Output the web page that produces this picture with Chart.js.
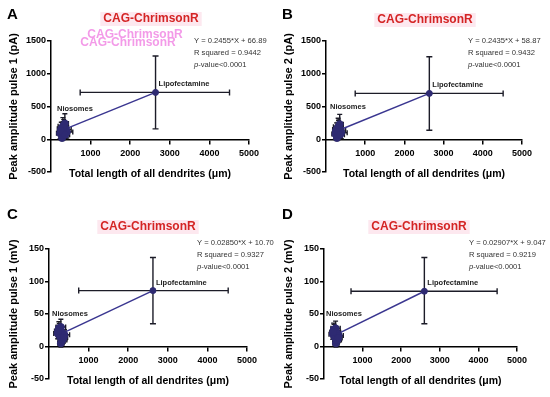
<!DOCTYPE html>
<html lang="en">
<head>
<meta charset="UTF-8">
<title>CAG-ChrimsonR</title>
<style>
  body { margin: 0; background: #fff; }
  #wrap { position: relative; width: 550px; height: 397px; overflow: hidden; background: #fff; }
  canvas { position: absolute; }
</style>
</head>
<body>
<script src="https://cdn.jsdelivr.net/npm/chart.js"></script>
<div id="wrap">
  <canvas id="cA" width="275" height="200" style="left:0;top:0"></canvas>
  <canvas id="cB" width="275" height="200" style="left:275px;top:0"></canvas>
  <canvas id="cC" width="275" height="197" style="left:0;top:200px"></canvas>
  <canvas id="cD" width="275" height="197" style="left:275px;top:200px"></canvas>
</div>
<script>
// ticks
const xTicks = [1000, 2000, 3000, 4000, 5000];
const yTicksPA = [-500, 0, 500, 1000, 1500];
const yTicksMV = [-50, 0, 50, 100, 150];

const panelLetters = ['A', 'B', 'C', 'D'];
const yTitles = ['Peak amplitude pulse 1 (pA)', 'Peak amplitude pulse 2 (pA)',
                 'Peak amplitude pulse 1 (mV)', 'Peak amplitude pulse 2 (mV)'];
const equations = ['Y = 0.2455*X + 66.89', 'Y = 0.2435*X + 58.87',
                   'Y = 0.02850*X + 10.70', 'Y = 0.02907*X + 9.047'];
const rSquared = ['R squared = 0.9442', 'R squared = 0.9432',
                  'R squared = 0.9327', 'R squared = 0.9219'];

// Lipofectamine group (mean, error bar ends)
const lipoX   = [2640, 2636, 2625, 2600];
const lipoY   = [715, 700, 86, 85];
const lipoXLo = [737, 745, 750, 700];
const lipoXHi = [4508, 4519, 4525, 4485];
const lipoYLo = [158, 138, 35, 35];
const lipoYHi = [1271, 1260, 137, 137];

// Niosomes group, per panel
const niosX = [
  [230, 260, 290, 300, 330, 350, 380, 400, 280, 320, 250, 360],
  [240, 270, 290, 310, 330, 350, 370, 390, 280, 320, 250, 360],
  [220, 260, 280, 300, 330, 360, 390, 300, 250, 340, 230, 370],
  [230, 260, 280, 300, 330, 350, 380, 310, 250, 340, 240, 370]
];
const niosY = [
  [90, 160, 60, 200, 130, 240, 150, 110, 20, 180, 130, 70],
  [80, 150, 60, 190, 120, 230, 140, 100, 20, 170, 120, 70],
  [20, 25, 15, 30, 22, 12, 18, 5, 28, 10, 24, 14],
  [19, 24, 14, 28, 21, 12, 17, 5, 26, 10, 22, 13]
];
const niosXErr = [
  [90, 100, 80, 120, 110, 90, 130, 150, 70, 100, 80, 110],
  [90, 100, 80, 120, 110, 90, 130, 150, 70, 100, 80, 110],
  [100, 80, 90, 120, 100, 90, 130, 80, 70, 110, 90, 100],
  [100, 80, 90, 120, 100, 90, 120, 80, 70, 110, 90, 100]
];
const niosYErr = [
  [80, 100, 60, 130, 90, 150, 110, 90, 40, 120, 70, 60],
  [80, 100, 60, 130, 90, 150, 110, 90, 40, 120, 70, 60],
  [8, 10, 6, 12, 9, 7, 8, 6, 10, 6, 8, 7],
  [8, 10, 6, 11, 9, 7, 8, 6, 10, 6, 8, 7]
];

// regression line ends
const fitX1 = [260, 280, 280, 300];
const fitY1 = [131, 127, 18.7, 17.8];

// layout per panel: plot area edges inside each canvas
const plotTop    = [41, 41, 49, 49];
const plotBottom = [172, 172, 179, 179];
const plotLeft   = [51, 51, 49, 49];
const plotRight  = [249, 247, 247, 242];
const titleCX    = [151, 150, 148, 144];
const titleY     = [19, 20, 27, 27];
const eqX        = [194, 193, 197, 194];
const eqY        = [41, 41, 43, 43];
const niosLabel  = [[57, 109], [55, 107], [52, 114], [51, 114]];

const FONT = "'Liberation Sans', Arial, sans-serif";
const NAVY = '#2e2a72';
const BAR = '#1c1c28';

const errorBars = {
  id: 'errorBars',
  beforeDatasetsDraw(chart) {
    const {ctx, scales: {x, y}} = chart;
    ctx.save();
    ctx.strokeStyle = BAR;
    ctx.lineWidth = 1.4;
    chart.data.datasets.forEach(ds => {
      if (!ds.err) return;
      ds.data.forEach((p, i) => {
        const e = ds.err[i];
        const px = x.getPixelForValue(p.x), py = y.getPixelForValue(p.y);
        const x0 = x.getPixelForValue(e.xlo), x1 = x.getPixelForValue(e.xhi);
        const y0 = y.getPixelForValue(e.ylo), y1 = y.getPixelForValue(e.yhi);
        const c = ds.cap;
        ctx.beginPath();
        ctx.moveTo(px, y0); ctx.lineTo(px, y1);
        ctx.moveTo(px - c, y0); ctx.lineTo(px + c, y0);
        ctx.moveTo(px - c, y1); ctx.lineTo(px + c, y1);
        ctx.moveTo(x0, py); ctx.lineTo(x1, py);
        ctx.moveTo(x0, py - c); ctx.lineTo(x0, py + c);
        ctx.moveTo(x1, py - c); ctx.lineTo(x1, py + c);
        ctx.stroke();
      });
    });
    ctx.restore();
  }
};

const labels = {
  id: 'labels',
  afterDraw(chart) {
    const k = chart.options.plugins.labels.panel;
    const {ctx, scales: {x, y}} = chart;
    ctx.save();
    ctx.textBaseline = 'middle';
    // panel letter
    ctx.fillStyle = '#000';
    ctx.font = 'bold 15px ' + FONT;
    ctx.textAlign = 'left';
    ctx.fillText(panelLetters[k], 7, 15);
    // artefact copies of the title in panel A
    if (k === 0) {
      ctx.font = 'bold 12px ' + FONT;
      ctx.textAlign = 'center';
      ctx.fillStyle = '#f39ae8';
      ctx.fillText('CAG-ChrimsonR', 135, 35);
      ctx.fillText('CAG-ChrimsonR', 128, 43);
    }
    // title with pale pink box
    ctx.font = 'bold 12px ' + FONT;
    ctx.textAlign = 'center';
    const w = ctx.measureText('CAG-ChrimsonR').width;
    ctx.fillStyle = '#fde8ef';
    ctx.fillRect(titleCX[k] - w / 2 - 3, titleY[k] - 7, w + 6, 14);
    ctx.fillStyle = '#d42424';
    ctx.fillText('CAG-ChrimsonR', titleCX[k], titleY[k]);
    // fit stats
    ctx.textAlign = 'left';
    ctx.fillStyle = '#333';
    ctx.font = '7.6px ' + FONT;
    ctx.fillText(equations[k], eqX[k], eqY[k]);
    ctx.fillText(rSquared[k], eqX[k], eqY[k] + 12);
    ctx.font = 'italic 7.6px ' + FONT;
    ctx.fillText('p', eqX[k], eqY[k] + 24);
    const pw = ctx.measureText('p').width;
    ctx.font = '7.6px ' + FONT;
    ctx.fillText('-value<0.0001', eqX[k] + pw, eqY[k] + 24);
    // group labels
    ctx.fillStyle = '#222';
    ctx.font = 'bold 7.5px ' + FONT;
    ctx.fillText('Lipofectamine', x.getPixelForValue(lipoX[k]) + 3, y.getPixelForValue(lipoY[k]) - 8);
    ctx.fillText('Niosomes', niosLabel[k][0], niosLabel[k][1]);
    ctx.restore();
  }
};

function makeChart(id, k) {
  const yTicks = k < 2 ? yTicksPA : yTicksMV;
  const canvas = document.getElementById(id);
  const H = canvas.height, W = canvas.width;

  const nios = niosX[k].map((v, i) => ({x: v, y: niosY[k][i]}));
  const niosErr = niosX[k].map((v, i) => ({
    xlo: v - niosXErr[k][i], xhi: v + niosXErr[k][i],
    ylo: niosY[k][i] - niosYErr[k][i], yhi: niosY[k][i] + niosYErr[k][i]
  }));

  new Chart(canvas.getContext('2d'), {
    type: 'scatter',
    data: {
      datasets: [
        {
          label: 'fit',
          type: 'line',
          data: [{x: fitX1[k], y: fitY1[k]}, {x: lipoX[k], y: lipoY[k]}],
          borderColor: '#3a3690',
          borderWidth: 1.5,
          pointRadius: 0,
          fill: false,
          order: 3
        },
        {
          label: 'Niosomes',
          data: nios,
          err: niosErr,
          cap: 2.5,
          backgroundColor: NAVY,
          borderColor: NAVY,
          pointRadius: 3.5,
          order: 1
        },
        {
          label: 'Lipofectamine',
          data: [{x: lipoX[k], y: lipoY[k]}],
          err: [{xlo: lipoXLo[k], xhi: lipoXHi[k], ylo: lipoYLo[k], yhi: lipoYHi[k]}],
          cap: 3,
          backgroundColor: NAVY,
          borderColor: NAVY,
          pointRadius: 3,
          order: 1
        }
      ]
    },
    options: {
      responsive: false,
      animation: false,
      layout: {padding: {top: plotTop[k], bottom: H - plotBottom[k], left: 0, right: W - plotRight[k]}},
      plugins: {
        legend: {display: false},
        tooltip: {enabled: false},
        labels: {panel: k}
      },
      scales: {
        x: {
          type: 'linear',
          position: {y: 0},
          min: 0, max: 5000,
          afterBuildTicks: s => { s.ticks = xTicks.map(v => ({value: v})); },
          grid: {drawOnChartArea: false, drawTicks: true, tickLength: 4, color: '#000', lineWidth: 1.5},
          border: {color: '#000', width: 1.5},
          ticks: {color: '#000', font: {family: FONT, size: 9, weight: 'bold'}, padding: 5, maxRotation: 0,
                  callback: v => String(v)},
          title: {display: true, text: 'Total length of all dendrites (\u03bcm)', color: '#000',
                  font: {family: FONT, size: 10.5, weight: 'bold'}, padding: {top: 4, bottom: 4}}
        },
        y: {
          type: 'linear',
          position: 'left',
          min: yTicks[0], max: yTicks[yTicks.length - 1],
          afterBuildTicks: s => { s.ticks = yTicks.map(v => ({value: v})); },
          afterFit: s => { s.width = plotLeft[k]; },
          grid: {drawOnChartArea: false, drawTicks: true, tickLength: 4, color: '#000', lineWidth: 1.5},
          border: {color: '#000', width: 1.5},
          ticks: {color: '#000', font: {family: FONT, size: 9, weight: 'bold'}, padding: 1,
                  callback: v => String(v)},
          title: {display: true, text: yTitles[k], color: '#000',
                  font: {family: FONT, size: 11, weight: 'bold'}, padding: {top: 7, bottom: 0}}
        }
      }
    },
    plugins: [errorBars, labels]
  });
}

makeChart('cA', 0);
makeChart('cB', 1);
makeChart('cC', 2);
makeChart('cD', 3);
</script>
</body>
</html>
